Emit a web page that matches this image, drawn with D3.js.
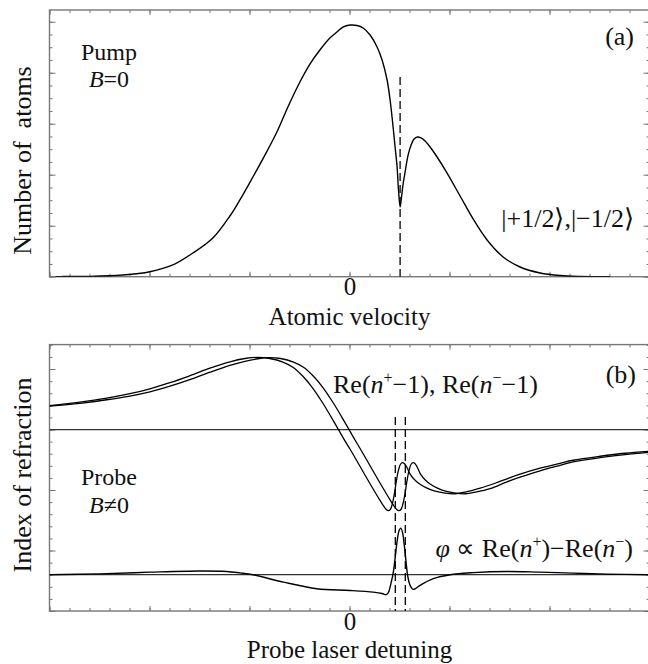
<!DOCTYPE html>
<html><head><meta charset="utf-8">
<script src="https://cdn.jsdelivr.net/npm/d3@7"></script>
<style>
html,body{margin:0;padding:0;background:#fff;}
svg{display:block;}
text{font-family:"Liberation Serif","Times New Roman",serif;fill:#111;}
</style></head>
<body>
<svg id="chart" width="648" height="664"></svg>
<script>
// ---------- data (arbitrary units) ----------
// Panel (a): number of atoms vs atomic velocity (pump, B = 0)
const pumpX = [-14.7,-14.33,-12.98,-11.33,-9.98,-8.83,-7.83,-6.83,-5.98,-5.48,-4.83,-4.23,-3.63,-3.08,-2.48,-1.98,-1.48,-0.98,-0.63,-0.33,0.03,0.38,0.68,1.03,1.38,1.63,1.88,2.03,2.18,2.28,2.38,2.45,2.53,2.6,2.68,2.78,2.93,3.08,3.23,3.4,3.58,3.78,4.03,4.38,4.88,5.53,6.18,6.88,7.68,8.53,9.53,10.53,11.53,13.03];
const pumpY = [0,0.01,0.02,0.13,0.39,0.92,1.86,3.04,4.76,6.02,7.82,9.54,11.35,13.31,15.27,16.68,17.78,18.72,19.19,19.58,19.74,19.70,19.51,18.96,18.02,17.0,15.43,13.86,11.74,10.17,8.6,6.8,5.47,6.25,7.27,8.21,9.54,10.33,10.8,10.96,10.88,10.64,10.17,9.39,8.13,6.33,4.53,2.88,1.55,0.76,0.29,0.09,0.02,0];
const pumpMarkX = [2.53];          // velocity of the burned hole
const pumpMarkTop = [15.66];

// Panel (b): index of refraction vs probe detuning (B != 0)
const rePlusX = [-15,-13.48,-12.14,-10.98,-9.98,-8.98,-7.98,-6.98,-5.98,-5.23,-4.58,-3.98,-3.33,-2.83,-2.33,-1.83,-1.33,-0.93,-0.58,-0.28,0.03,0.38,0.78,1.13,1.43,1.68,1.83,1.94,2.05,2.15,2.25,2.35,2.45,2.55,2.65,2.75,2.88,3.03,3.28,3.53,3.88,4.28,4.78,5.28,5.78,6.53,7.28,7.88,8.53,9.53,10.53,11.18,12.53,13.78,15.03];
const rePlusY = [1.97,2.26,2.59,2.96,3.37,3.87,4.45,5.07,5.6,5.87,5.96,5.87,5.58,5.15,4.4,3.41,2.17,1.07,0.07,-0.79,-1.63,-2.62,-3.78,-4.77,-5.6,-6.26,-6.59,-6.71,-6.59,-6.09,-5.26,-4.19,-3.36,-2.87,-2.74,-2.83,-3.16,-3.69,-4.19,-4.52,-4.85,-5.1,-5.26,-5.31,-5.18,-4.85,-4.44,-4.07,-3.69,-3.2,-2.79,-2.54,-2.21,-1.96,-1.79];
const reMinusX = [-15,-13.48,-12.14,-10.98,-9.98,-8.98,-7.98,-6.98,-5.98,-5.23,-4.58,-4.05,-3.45,-2.8,-2.3,-1.8,-1.3,-0.8,-0.4,-0.05,0.25,0.55,0.9,1.3,1.65,1.95,2.2,2.35,2.47,2.58,2.68,2.78,2.88,2.98,3.08,3.18,3.28,3.4,3.55,3.8,4.05,4.4,4.8,5.3,5.8,6.3,7.03,7.88,8.53,9.53,10.53,11.18,12.53,13.78,15.03];
const reMinusY = [1.93,2.17,2.46,2.77,3.12,3.58,4.12,4.74,5.31,5.64,5.85,5.95,5.87,5.58,5.15,4.4,3.41,2.17,1.07,0.07,-0.79,-1.63,-2.62,-3.78,-4.77,-5.6,-6.26,-6.59,-6.71,-6.59,-6.09,-5.26,-4.19,-3.36,-2.87,-2.74,-2.83,-3.16,-3.69,-4.19,-4.52,-4.85,-5.1,-5.26,-5.31,-5.18,-4.89,-4.32,-3.94,-3.41,-2.96,-2.68,-2.33,-2.08,-1.88];
const phiX = [-15,-12.48,-9.98,-7.48,-6.14,-5.48,-4.83,-3.31,-1.64,0.03,1.19,1.63,1.83,1.95,2.05,2.13,2.19,2.28,2.38,2.48,2.56,2.65,2.74,2.83,2.9,2.98,3.08,3.18,3.28,3.53,4.19,5.03,6.19,7.86,9.53,11.19,12.86,15];
const phiY = [0,0.07,0.21,0.31,0.27,0.15,0,-0.61,-1.16,-1.3,-1.44,-1.55,-1.65,-1.46,-0.88,-0.31,0.19,1.35,2.75,3.66,3.85,3.5,2.42,1.02,0,-0.64,-1.05,-1.21,-1.17,-0.88,-0.33,0,0.17,0.27,0.21,0.13,0.05,0];
const probeMarkX = [2.29, 2.79];   // resonances of the two Zeeman components
const probeMarkTop = [1.04, 1.04];

const xTickLabels = ["0"];

// ---------- layout ----------
const svg = d3.select("#chart");
const X0 = 49.5, X1 = 649.5;
const xs = d3.scaleLinear().domain([-15, 15]).range([X0, X1]);
const ya = d3.scaleLinear().domain([0, 20.92]).range([276.7, 10]);
const yb = d3.scaleLinear().domain([-15, 7.02]).range([611, 344.6]);
const phiBase = -12;   // vertical placement of the phase curve's zero line in panel (b)

const FRAME = "#777";
const FONT = 26;
const AXFONT = 25;
const NOTEFONT = 24;

function frame(g, ys) {
  const [y0, y1] = ys.range();
  g.append("rect").attr("x", X0).attr("y", y1).attr("width", X1 - X0).attr("height", y0 - y1)
    .attr("fill", "none").attr("stroke", FRAME).attr("stroke-width", 1.4);
}
function styleAxis(sel) {
  sel.select(".domain").remove();
  sel.selectAll(".tick line").attr("stroke", FRAME).attr("stroke-width", 1);
  sel.selectAll(".tick text").attr("font-family", "Liberation Serif, serif").attr("font-size", AXFONT).attr("fill", "#111");
}
function axes(g, ys, yMinor, yMajor) {
  const [yb0, yb1] = ys.range();
  const minorX = d3.range(-15, 16);
  const majorX = [-15, -10, -5, 0, 5, 10, 15];
  g.append("g").attr("transform", `translate(0,${yb0})`)
    .call(d3.axisBottom(xs).tickValues(minorX).tickSizeInner(-3).tickSizeOuter(0).tickFormat("")).call(styleAxis);
  g.append("g").attr("transform", `translate(0,${yb0})`)
    .call(d3.axisBottom(xs).tickValues(majorX).tickSizeInner(-5).tickSizeOuter(0).tickPadding(1)
      .tickFormat(d => d === 0 ? xTickLabels[0] : "")).call(styleAxis);
  g.append("g").attr("transform", `translate(0,${yb1})`)
    .call(d3.axisTop(xs).tickValues(minorX).tickSizeInner(-3).tickSizeOuter(0).tickFormat("")).call(styleAxis);
  g.append("g").attr("transform", `translate(0,${yb1})`)
    .call(d3.axisTop(xs).tickValues(majorX).tickSizeInner(-5).tickSizeOuter(0).tickFormat("")).call(styleAxis);
  [[X0, d3.axisLeft], [X1, d3.axisRight]].forEach(([xp, ax]) => {
    g.append("g").attr("transform", `translate(${xp},0)`)
      .call(ax(ys).tickValues(yMinor).tickSizeInner(-3).tickSizeOuter(0).tickFormat("")).call(styleAxis);
    g.append("g").attr("transform", `translate(${xp},0)`)
      .call(ax(ys).tickValues(yMajor).tickSizeInner(-6).tickSizeOuter(0).tickFormat("")).call(styleAxis);
  });
}

// clip paths
const defs = svg.append("defs");
[["clipA", ya], ["clipB", yb]].forEach(([id, ys]) => {
  const [y0, y1] = ys.range();
  defs.append("clipPath").attr("id", id).append("rect")
    .attr("x", X0).attr("y", y1).attr("width", X1 - X0).attr("height", y0 - y1);
});

const curve = d3.curveCatmullRom.alpha(0.5);

function note(g, x, y, first, italicPart, rest, gap) {
  g.append("text").attr("x", x).attr("y", y).attr("text-anchor", "middle").attr("font-size", NOTEFONT).text(first);
  const t = g.append("text").attr("x", x).attr("y", y + gap).attr("text-anchor", "middle").attr("font-size", NOTEFONT);
  t.append("tspan").attr("font-style", "italic").text(italicPart);
  t.append("tspan").text(rest);
}

// ---------- panel (a) ----------
const ga = svg.append("g");
axes(ga, ya, d3.range(0, 21), [0, 4, 8, 12, 16, 20]);
frame(ga, ya);
const pa = ga.append("g").attr("clip-path", "url(#clipA)");
const lineA = d3.line().x(d => xs(d[0])).y(d => ya(d[1])).curve(curve);
pa.append("path").datum(d3.zip(pumpX, pumpY)).attr("d", lineA)
  .attr("fill", "none").attr("stroke", "#000").attr("stroke-width", 1.4);
pa.selectAll("line.mark").data(d3.zip(pumpMarkX, pumpMarkTop)).enter().append("line")
  .attr("x1", d => xs(d[0])).attr("x2", d => xs(d[0]))
  .attr("y1", d => ya(d[1])).attr("y2", ya(0))
  .attr("stroke", "#000").attr("stroke-width", 1.3).attr("stroke-dasharray", "8,4");

note(ga, 109, 59.5, "Pump", "B", "=0", 27);
ga.append("text").attr("x", 634).attr("y", 45).attr("text-anchor", "end").attr("font-size", FONT).text("(a)");
ga.append("text").attr("x", 634).attr("y", 227).attr("text-anchor", "end").attr("font-size", FONT).text("|+1/2\u27E9,|\u22121/2\u27E9");
ga.append("text").attr("transform", "translate(31,160.5) rotate(-90)").attr("text-anchor", "middle")
  .attr("font-size", FONT).text("Number of\u00A0 atoms");
ga.append("text").attr("x", xs(0)).attr("y", 325).attr("text-anchor", "middle").attr("font-size", AXFONT).text("Atomic velocity");

// ---------- panel (b) ----------
const gb = svg.append("g");
axes(gb, yb, d3.range(-15, 8), [-15, -10, -5, 0, 5]);
frame(gb, yb);
const pb = gb.append("g").attr("clip-path", "url(#clipB)");
[0, phiBase].forEach(v => {
  pb.append("line").attr("x1", X0).attr("x2", X1).attr("y1", yb(v)).attr("y2", yb(v))
    .attr("stroke", "#333").attr("stroke-width", 1.3);
});
const lineB = d3.line().x(d => xs(d[0])).y(d => yb(d[1])).curve(curve);
const lineP = d3.line().x(d => xs(d[0])).y(d => yb(d[1] + phiBase)).curve(curve);
[[rePlusX, rePlusY], [reMinusX, reMinusY]].forEach(([xv, yv]) => {
  pb.append("path").datum(d3.zip(xv, yv)).attr("d", lineB)
    .attr("fill", "none").attr("stroke", "#000").attr("stroke-width", 1.3);
});
pb.append("path").datum(d3.zip(phiX, phiY)).attr("d", lineP)
  .attr("fill", "none").attr("stroke", "#000").attr("stroke-width", 1.4);
pb.selectAll("line.mark").data(d3.zip(probeMarkX, probeMarkTop)).enter().append("line")
  .attr("x1", d => xs(d[0])).attr("x2", d => xs(d[0]))
  .attr("y1", d => yb(d[1])).attr("y2", yb(-15))
  .attr("stroke", "#000").attr("stroke-width", 1.3).attr("stroke-dasharray", "8,4");

note(gb, 109, 485, "Probe", "B", "\u22600", 28);
gb.append("text").attr("x", 636).attr("y", 383).attr("text-anchor", "end").attr("font-size", FONT).text("(b)");

function reText(t, sign, tail) {
  t.append("tspan").text("Re(");
  t.append("tspan").attr("font-style", "italic").text("n");
  t.append("tspan").attr("font-size", 16).attr("dy", -10).text(sign);
  t.append("tspan").attr("dy", 10).text(tail);
}
const tRe = gb.append("text").attr("x", 333).attr("y", 393).attr("font-size", FONT);
reText(tRe, "+", "\u22121), ");
reText(tRe, "\u2212", "\u22121)");

const tPhi = gb.append("text").attr("x", 633).attr("y", 557).attr("text-anchor", "end").attr("font-size", FONT);
tPhi.append("tspan").attr("font-style", "italic").text("\u03C6");
tPhi.append("tspan").text(" \u221D ");
reText(tPhi, "+", ")\u2212");
reText(tPhi, "\u2212", ")");

gb.append("text").attr("transform", "translate(31,475) rotate(-90)").attr("text-anchor", "middle")
  .attr("font-size", FONT).text("Index of refraction");
gb.append("text").attr("x", xs(0)).attr("y", 658).attr("text-anchor", "middle").attr("font-size", AXFONT).text("Probe laser detuning");
</script>
</body></html>
